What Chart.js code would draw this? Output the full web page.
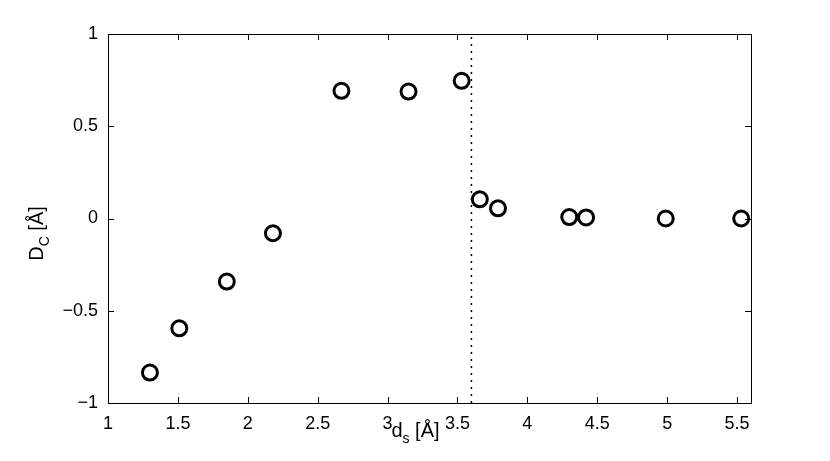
<!DOCTYPE html>
<html>
<head>
<meta charset="utf-8">
<script src="https://cdn.jsdelivr.net/npm/chart.js@4"></script>
<style>
  html, body { margin: 0; padding: 0; background: #fff; }
  #wrap { width: 830px; height: 461px; }
</style>
</head>
<body>
<div id="wrap"><canvas id="c" width="830" height="461"></canvas></div>
<script>
// ---- data ----
const dsValues = [1.30, 1.51, 1.85, 2.18, 2.67, 3.15, 3.53, 3.66, 3.79, 4.30, 4.42, 4.99, 5.53];
const dcValues = [-0.835, -0.595, -0.342, -0.080, 0.692, 0.688, 0.746, 0.104, 0.055, 0.008, 0.006, 0.000, 0.000];
const vlineX = [3.6, 3.6];
const vlineY = [-1, 1];
const xTickValues = [1, 1.5, 2, 2.5, 3, 3.5, 4, 4.5, 5, 5.5];
const yTickValues = [-1, -0.5, 0, 0.5, 1];
const xRange = [1, 5.6];
const yRange = [-1, 1];

const FONT = '"Liberation Sans", Arial, Helvetica, sans-serif';

function fmt(v) {
  const s = String(Math.round(v * 100) / 100);
  return s.replace('-', '\u2212');
}

const boxPlugin = {
  id: 'matlabBox',
  afterDraw(chart) {
    const { ctx, chartArea: a, scales } = chart;
    const xs = scales.x, ys = scales.y;
    ctx.save();
    ctx.strokeStyle = '#000';
    ctx.lineWidth = 1;
    // inside ticks on all four sides
    const tl = 6;
    ctx.beginPath();
    xTickValues.forEach(v => {
      const px = Math.round(xs.getPixelForValue(v)) + 0.5;
      ctx.moveTo(px, a.bottom); ctx.lineTo(px, a.bottom - tl);
      ctx.moveTo(px, a.top); ctx.lineTo(px, a.top + tl);
    });
    yTickValues.forEach(v => {
      const py = Math.round(ys.getPixelForValue(v)) + 0.5;
      ctx.moveTo(a.left, py); ctx.lineTo(a.left + tl, py);
      ctx.moveTo(a.right, py); ctx.lineTo(a.right - tl, py);
    });
    ctx.stroke();
    // box
    ctx.strokeRect(Math.round(a.left) + 0.5, Math.round(a.top) + 0.5,
                   Math.round(a.right - a.left), Math.round(a.bottom - a.top));

    ctx.fillStyle = '#000';
    ctx.textBaseline = 'alphabetic';
    ctx.textAlign = 'left';
    const big = '20px ' + FONT, small = '14px ' + FONT;
    // x axis title: d_s [Å]
    ctx.font = big; const w1 = ctx.measureText('d').width;
    ctx.font = small; const w2 = ctx.measureText('s').width;
    ctx.font = big; const w3 = ctx.measureText(' [\u00C5]').width;
    let x0 = (a.left + a.right) / 2 - 14 - (w1 + w2 + w3) / 2;
    const yb = a.bottom + 34;
    ctx.font = big; ctx.fillText('d', x0, yb);
    ctx.font = small; ctx.fillText('s', x0 + w1, yb + 6);
    ctx.font = big; ctx.fillText(' [\u00C5]', x0 + w1 + w2, yb);

    // y axis title: D_C [Å]
    ctx.font = big; const v1 = ctx.measureText('D').width;
    ctx.font = small; const v2 = ctx.measureText('C').width;
    ctx.font = big; const v3 = ctx.measureText(' [\u00C5]').width;
    const tot = v1 + v2 + v3;
    const cy = (a.top + a.bottom) / 2 + 15;
    ctx.translate(43, cy);
    ctx.rotate(-Math.PI / 2);
    let s0 = -tot / 2;
    ctx.font = big; ctx.fillText('D', s0, 0);
    ctx.font = small; ctx.fillText('C', s0 + v1, 6);
    ctx.font = big; ctx.fillText(' [\u00C5]', s0 + v1 + v2, 0);
    ctx.restore();
  }
};

new Chart(document.getElementById('c'), {
  type: 'scatter',
  data: {
    datasets: [
      {
        type: 'line',
        data: vlineX.map((x, i) => ({ x, y: vlineY[i] })),
        borderColor: '#000',
        borderWidth: 1.5,
        borderDash: [2, 5],
        pointRadius: 0,
        fill: false,
        order: 2
      },
      {
        data: dsValues.map((x, i) => ({ x, y: dcValues[i] })),
        pointStyle: 'circle',
        pointRadius: 7.5,
        pointHoverRadius: 7.5,
        borderWidth: 3,
        borderColor: '#000',
        backgroundColor: 'rgba(255,255,255,0)',
        order: 1
      }
    ]
  },
  options: {
    responsive: false,
    animation: false,
    events: [],
    layout: { padding: { left: 0, top: 34, right: 79, bottom: 0 } },
    plugins: { legend: { display: false }, tooltip: { enabled: false } },
    scales: {
      x: {
        type: 'linear',
        min: xRange[0], max: xRange[1],
        afterBuildTicks(s) { s.ticks = xTickValues.map(v => ({ value: v })); },
        afterFit(s) { s.height = 58; },
        grid: { display: false, drawTicks: false },
        border: { display: false },
        ticks: {
          color: '#000', padding: 10, maxRotation: 0, autoSkip: false,
          font: { family: FONT, size: 18 },
          callback: v => fmt(v)
        }
      },
      y: {
        type: 'linear',
        min: yRange[0], max: yRange[1],
        afterBuildTicks(s) { s.ticks = yTickValues.map(v => ({ value: v })); },
        afterFit(s) { s.width = 108; },
        grid: { display: false, drawTicks: false },
        border: { display: false },
        ticks: {
          color: '#000', padding: 10, autoSkip: false,
          font: { family: FONT, size: 18 },
          callback: v => fmt(v)
        }
      }
    }
  },
  plugins: [boxPlugin]
});
</script>
</body>
</html>
